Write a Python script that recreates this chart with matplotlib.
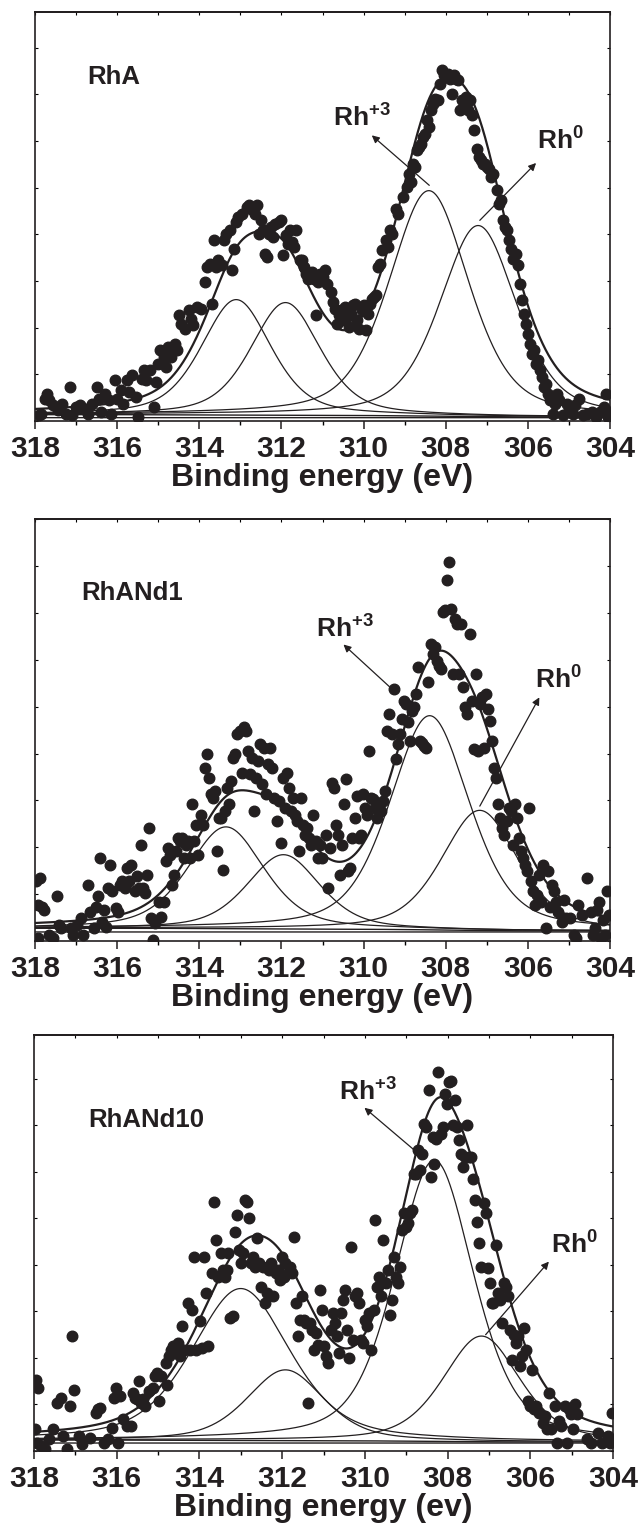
import numpy as np
import matplotlib
matplotlib.use("Agg")
import matplotlib.pyplot as plt
from matplotlib.ticker import MultipleLocator

plt.rcParams["font.family"] = "Liberation Sans"
plt.rcParams["font.weight"] = "bold"
plt.rcParams["mathtext.fontset"] = "custom"
plt.rcParams["mathtext.rm"] = "Liberation Sans:bold"
plt.rcParams["mathtext.it"] = "Liberation Sans:bold"
plt.rcParams["mathtext.bf"] = "Liberation Sans:bold"

INK = "#231f20"

# ---------------- RhA ----------------
rha_be = [317.90, 317.85, 317.75, 317.70, 317.65, 317.55, 317.45, 317.35, 317.25, 317.15,
          317.10, 317.00, 316.90, 316.75, 316.70, 316.60, 316.50, 316.45, 316.40, 316.30,
          316.20, 316.15, 316.05, 316.00, 315.90, 315.85, 315.75, 315.70, 315.65, 315.55,
          315.50, 315.40, 315.35, 315.30, 315.20, 315.10, 315.05, 315.00, 314.95, 314.85,
          314.80, 314.75, 314.70, 314.60, 314.55, 314.50, 314.45, 314.35, 314.25, 314.20,
          314.15, 314.05, 313.95, 313.85, 313.80, 313.75, 313.70, 313.65, 313.60, 313.55,
          313.45, 313.40, 313.35, 313.25, 313.20, 313.15, 313.10, 313.05, 312.95, 312.85,
          312.80, 312.75, 312.65, 312.60, 312.55, 312.50, 312.45, 312.40, 312.35, 312.30,
          312.25, 312.20, 312.15, 312.05, 312.00, 311.95, 311.90, 311.85, 311.80, 311.75,
          311.70, 311.65, 311.55, 311.50, 311.45, 311.40, 311.35, 311.30, 311.25, 311.20,
          311.15, 311.10, 311.05, 311.00, 310.95, 310.90, 310.80, 310.75, 310.70, 310.65,
          310.60, 310.55, 310.50, 310.45, 310.40, 310.35, 310.30, 310.25, 310.20, 310.15,
          310.10, 310.05, 310.00, 309.95, 309.90, 309.85, 309.80, 309.75, 309.70, 309.65,
          309.60, 309.55, 309.45, 309.40, 309.35, 309.30, 309.20, 309.15, 309.05, 308.95,
          308.90, 308.85, 308.80, 308.75, 308.70, 308.65, 308.60, 308.55, 308.50, 308.45,
          308.40, 308.35, 308.30, 308.25, 308.20, 308.15, 308.10, 308.05, 308.00, 307.95,
          307.90, 307.85, 307.80, 307.75, 307.70, 307.65, 307.60, 307.55, 307.50, 307.45,
          307.40, 307.35, 307.30, 307.25, 307.20, 307.15, 307.10, 307.05, 307.00, 306.95,
          306.90, 306.85, 306.75, 306.70, 306.65, 306.60, 306.55, 306.50, 306.45, 306.40,
          306.35, 306.30, 306.25, 306.20, 306.15, 306.10, 306.05, 306.00, 305.95, 305.90,
          305.85, 305.80, 305.75, 305.70, 305.65, 305.60, 305.55, 305.50, 305.45, 305.40,
          305.35, 305.30, 305.25, 305.15, 305.05, 305.00, 304.90, 304.85, 304.75, 304.65,
          304.55, 304.45, 304.35, 304.25, 304.15, 304.10, 304.05, 304.00]
rha_int = [17, 22, 67, 82, 62, 47, 32, 52, 22, 102,
           17, 42, 47, 37, 22, 52, 102, 67, 27, 82,
           62, 22, 122, 67, 92, 52, 122, 87, 137, 72,
           12, 127, 152, 122, 152, 42, 117, 172, 212, 192,
           162, 222, 192, 232, 212, 317, 292, 277, 332, 307,
           287, 342, 337, 417, 462, 472, 352, 542, 462, 482,
           467, 542, 562, 572, 452, 517, 597, 612, 622, 642,
           647, 637, 622, 647, 562, 602, 572, 502, 492, 562,
           582, 552, 592, 597, 602, 497, 557, 532, 572, 537,
           522, 572, 482, 482, 462, 442, 427, 442, 447, 427,
           317, 417, 442, 432, 452, 412, 387, 357, 337, 292,
           317, 332, 302, 342, 312, 282, 322, 347, 352, 302,
           277, 332, 347, 272, 322, 352, 367, 372, 377, 462,
           472, 512, 542, 522, 572, 562, 637, 622, 672, 702,
           742, 717, 772, 762, 812, 822, 832, 852, 862, 902,
           882, 932, 952, 967, 962, 1012, 1052, 1037, 1032, 1042,
           1027, 982, 1037, 1027, 1022, 932, 962, 942, 972, 932,
           962, 917, 872, 817, 792, 782, 772, 772, 762, 757,
           732, 742, 692, 652, 662, 602, 582, 572, 542, 517,
           487, 502, 467, 412, 362, 322, 292, 262, 232, 202,
           212, 172, 182, 152, 132, 102, 112, 82, 62, 22,
           52, 82, 62, 17, 52, 32, 22, 47, 67, 17,
           22, 27, 12, 27, 42, 82, 12, 27]
rha_centers = [313.10, 311.90, 308.41, 307.21]
rha_heights = [346, 338, 676, 573]
rha_fwhm = [2.0, 2.0, 2.3, 2.2]

# ---------------- RhANd1 ----------------
rhand1_be = [317.97, 317.92, 317.87, 317.82, 317.77, 317.92, 317.67, 317.57, 317.47, 317.42,
             317.37, 317.12, 317.07, 316.97, 316.87, 316.82, 316.72, 316.67, 316.57, 316.52,
             316.47, 316.42, 316.37, 316.32, 316.27, 316.22, 316.17, 316.12, 316.02, 315.97,
             315.92, 315.87, 315.82, 315.77, 315.72, 315.67, 315.57, 315.52, 315.47, 315.42,
             315.37, 315.32, 315.27, 315.22, 315.17, 315.12, 315.07, 314.97, 314.92, 314.87,
             314.82, 314.77, 314.72, 314.67, 314.62, 314.57, 314.52, 314.47, 314.42, 314.37,
             314.32, 314.27, 314.22, 314.17, 314.12, 314.07, 314.02, 313.97, 313.92, 313.87,
             313.82, 313.77, 313.72, 313.67, 313.62, 313.57, 313.52, 313.47, 313.42, 313.37,
             313.32, 313.27, 313.22, 313.17, 313.12, 313.07, 313.02, 312.97, 312.92, 312.87,
             312.82, 312.77, 312.72, 312.67, 312.62, 312.57, 312.52, 312.47, 312.42, 312.37,
             312.32, 312.27, 312.22, 312.17, 312.12, 312.07, 312.02, 311.97, 311.92, 311.87,
             311.82, 311.77, 311.72, 311.67, 311.62, 311.57, 311.52, 311.47, 311.42, 311.37,
             311.32, 311.27, 311.22, 311.17, 311.12, 311.07, 311.02, 310.92, 310.87, 310.82,
             310.77, 310.72, 310.67, 310.62, 310.57, 310.52, 310.47, 310.42, 310.37, 310.32,
             310.27, 310.22, 310.17, 310.12, 310.07, 310.02, 309.97, 309.92, 309.87, 309.82,
             309.77, 309.72, 309.67, 309.62, 309.57, 309.52, 309.47, 309.42, 309.37, 309.32,
             309.27, 309.22, 309.17, 309.12, 309.07, 309.02, 308.97, 308.92, 308.87, 308.82,
             308.77, 308.72, 308.67, 308.62, 308.57, 308.52, 308.47, 308.42, 308.37, 308.32,
             308.27, 308.22, 308.17, 308.12, 308.07, 308.02, 307.97, 307.92, 307.87, 307.82,
             307.77, 307.72, 307.67, 307.62, 307.57, 307.52, 307.47, 307.42, 307.37, 307.32,
             307.27, 307.22, 307.17, 307.12, 307.07, 307.02, 306.97, 306.92, 306.87, 306.82,
             306.77, 306.72, 306.67, 306.62, 306.57, 306.52, 306.47, 306.42, 306.37, 306.32,
             306.27, 306.22, 306.17, 306.12, 306.07, 306.02, 305.97, 305.92, 305.87, 305.82,
             305.77, 305.72, 305.67, 305.62, 305.57, 305.52, 305.47, 305.42, 305.37, 305.32,
             305.27, 305.17, 305.12, 305.07, 304.97, 304.87, 304.82, 304.77, 304.67, 304.57,
             304.47, 304.42, 304.37, 304.32, 304.27, 304.22, 304.17, 304.12, 304.07, 304.02]
rhand1_int = [178, 108, 188, 103, 93, 8, 18, 8, 133, 48,
              38, 38, 18, 48, 68, 18, 168, 88, 38, 103,
              133, 248, 58, 93, 43, 158, 228, 148, 98, 88,
              168, 178, 158, 218, 178, 228, 148, 193, 158, 288,
              158, 143, 198, 338, 68, 3, 53, 118, 73, 118,
              238, 278, 258, 168, 198, 268, 308, 298, 308, 248,
              288, 298, 248, 408, 298, 348, 258, 378, 348, 518,
              558, 488, 438, 428, 448, 268, 368, 368, 213, 388,
              458, 408, 478, 548, 558, 618, 628, 503, 638, 628,
              568, 498, 548, 388, 488, 538, 588, 468, 578, 438,
              528, 578, 518, 428, 358, 418, 293, 488, 398, 503,
              458, 388, 428, 378, 358, 268, 428, 348, 318, 338,
              308, 288, 378, 298, 248, 288, 248, 318, 158, 278,
              473, 458, 348, 318, 198, 288, 408, 483, 208, 218,
              308, 368, 433, 308, 318, 438, 398, 378, 568, 428,
              423, 398, 368, 408, 388, 418, 448, 628, 678, 618,
              753, 543, 588, 618, 663, 718, 708, 653, 598, 688,
              698, 738, 818, 598, 593, 583, 578, 773, 888, 858,
              878, 838, 823, 813, 983, 988, 1078, 1133, 993, 798,
              963, 948, 798, 948, 758, 698, 678, 918, 718, 573,
              798, 568, 708, 728, 578, 738, 693, 658, 598, 518,
              488, 408, 368, 338, 318, 358, 398, 388, 288, 408,
              368, 308, 268, 248, 228, 208, 398, 178, 148, 108,
              138, 198, 118, 228, 38, 208, 103, 168, 148, 118,
              88, 58, 123, 68, 68, 18, 8, 108, 78, 188,
              88, 18, 38, 93, 118, 8, 63, 18, 148, 78]
rhand1_centers = [313.35, 311.95, 308.39, 307.17]
rhand1_heights = [304, 222, 640, 359]
rhand1_fwhm = [2.2, 2.1, 2.3, 2.2]

# ---------------- RhANd10 ----------------
rhand10_be = [317.95, 317.90, 317.98, 317.93, 317.83, 317.73, 317.64, 317.54, 317.44, 317.34,
              317.29, 317.19, 317.14, 317.09, 317.04, 316.90, 316.85, 316.65, 316.50, 316.45,
              316.40, 316.30, 316.21, 316.11, 316.06, 316.01, 315.96, 315.91, 315.86, 315.76,
              315.66, 315.61, 315.56, 315.51, 315.47, 315.42, 315.37, 315.32, 315.22, 315.12,
              315.07, 315.02, 314.97, 314.92, 314.82, 314.78, 314.73, 314.68, 314.63, 314.58,
              314.53, 314.48, 314.43, 314.38, 314.28, 314.23, 314.18, 314.13, 314.09, 313.99,
              313.94, 313.89, 313.84, 313.79, 313.69, 313.64, 313.59, 313.54, 313.49, 313.44,
              313.39, 313.34, 313.30, 313.25, 313.20, 313.15, 313.10, 313.05, 313.00, 312.95,
              312.90, 312.85, 312.80, 312.75, 312.70, 312.66, 312.61, 312.56, 312.51, 312.46,
              312.41, 312.36, 312.31, 312.26, 312.21, 312.16, 312.11, 312.06, 312.01, 311.96,
              311.92, 311.87, 311.82, 311.77, 311.72, 311.67, 311.62, 311.57, 311.52, 311.47,
              311.42, 311.37, 311.32, 311.27, 311.22, 311.18, 311.13, 311.08, 311.03, 310.98,
              310.93, 310.88, 310.83, 310.78, 310.73, 310.68, 310.63, 310.58, 310.53, 310.48,
              310.44, 310.39, 310.34, 310.29, 310.24, 310.19, 310.14, 310.09, 310.04, 309.99,
              309.94, 309.89, 309.84, 309.79, 309.75, 309.70, 309.65, 309.60, 309.55, 309.50,
              309.45, 309.40, 309.35, 309.30, 309.25, 309.20, 309.15, 309.10, 309.06, 309.01,
              308.96, 308.91, 308.86, 308.81, 308.76, 308.71, 308.66, 308.61, 308.56, 308.51,
              308.46, 308.41, 308.36, 308.32, 308.27, 308.22, 308.17, 308.12, 308.07, 308.02,
              307.97, 307.92, 307.87, 307.82, 307.77, 307.72, 307.67, 307.62, 307.58, 307.53,
              307.48, 307.43, 307.38, 307.33, 307.28, 307.23, 307.18, 307.13, 307.08, 307.03,
              306.98, 306.93, 306.89, 306.84, 306.79, 306.74, 306.69, 306.64, 306.59, 306.54,
              306.49, 306.44, 306.39, 306.34, 306.29, 306.24, 306.20, 306.15, 306.10, 306.05,
              306.00, 305.95, 305.90, 305.85, 305.80, 305.70, 305.65, 305.60, 305.55, 305.50,
              305.41, 305.36, 305.31, 305.26, 305.16, 305.11, 305.06, 305.01, 304.96, 304.91,
              304.86, 304.62, 304.52, 304.37, 304.27, 304.12, 304.07, 304.02]
rhand10_int = [215, 190, 65, 25, 15, 5, 35, 65, 145, 160,
               45, 5, 135, 345, 185, 45, 20, 40, 115, 125,
               130, 25, 35, 70, 160, 190, 25, 165, 95, 75,
               75, 175, 160, 155, 210, 145, 155, 135, 180, 190,
               225, 235, 150, 225, 265, 200, 285, 305, 315, 295,
               325, 285, 375, 305, 445, 305, 425, 585, 305, 390,
               310, 585, 475, 315, 535, 750, 635, 525, 595, 545,
               525, 545, 595, 400, 405, 660, 710, 605, 565, 595,
               755, 750, 700, 565, 585, 555, 640, 565, 495, 555,
               445, 475, 545, 565, 465, 535, 545, 515, 585, 525,
               565, 535, 555, 535, 645, 445, 345, 395, 465, 395,
               385, 145, 385, 365, 305, 355, 320, 485, 425, 315,
               285, 265, 365, 415, 385, 345, 295, 415, 455, 485,
               365, 280, 615, 335, 465, 475, 445, 335, 325, 395,
               375, 415, 305, 425, 695, 495, 525, 465, 635, 505,
               545, 410, 455, 585, 525, 505, 555, 665, 715, 675,
               685, 715, 725, 835, 835, 905, 845, 895, 985, 975,
               1085, 825, 945, 865, 940, 1140, 955, 975, 1075, 1045,
               1110, 1115, 980, 1055, 975, 935, 895, 855, 885, 980,
               885, 885, 820, 755, 690, 625, 555, 745, 715, 550,
               505, 445, 445, 620, 475, 455, 385, 505, 495, 465,
               365, 275, 350, 325, 345, 255, 285, 370, 305, 150,
               135, 245, 125, 135, 115, 85, 105, 65, 175, 65,
               135, 25, 90, 75, 135, 25, 125, 110, 65, 140,
               110, 35, 25, 55, 25, 45, 25, 115]
rhand10_centers = [313.00, 311.92, 308.32, 307.18]
rhand10_heights = [457, 213, 846, 318]
rhand10_fwhm = [2.8, 2.2, 2.25, 2.2]

panel_names = ["RhA", "RhANd1", "RhANd10"]
xlabels = ["Binding energy (eV)", "Binding energy (eV)", "Binding energy (ev)"]


def peak(e, c, h, w, eta=0.45):
    # pseudo-Voigt component
    x = (e - c) / (w / 2)
    return h * ((1 - eta) * np.exp(-np.log(2) * x ** 2) + eta / (1 + x ** 2))


def draw_panel(ax, be, inten, centers, heights, fwhm, bg_lo, bg_hi, flat, ymax,
               name, name_xy, rh3_text, rh3_arrow, rh0_text, rh0_arrow, xlabel):
    e = np.linspace(304, 318, 1401)
    comps = [peak(e, c, h, w) for c, h, w in zip(centers, heights, fwhm)]
    total = np.sum(comps, axis=0)
    frac = np.cumsum(total)
    frac = frac / frac[-1]
    bg = bg_lo + (bg_hi - bg_lo) * frac

    ax.plot(be, inten, "o", ms=7.6, color=INK, mec=INK, zorder=2)
    ax.plot(e, np.full_like(e, flat), color=INK, lw=1.0, zorder=3)
    ax.plot(e, bg, color=INK, lw=1.0, zorder=3)
    for comp in comps:
        ax.plot(e, comp + bg, color=INK, lw=0.9, zorder=3)
    ax.plot(e, total + bg, color=INK, lw=1.6, zorder=4)

    ax.text(name_xy[0], name_xy[1], name, fontsize=18.5, fontweight="bold", color=INK)
    ax.text(rh3_text[0], rh3_text[1], r"Rh$^{+3}$", fontsize=19, fontweight="bold", color=INK)
    ax.text(rh0_text[0], rh0_text[1], r"Rh$^{0}$", fontsize=19, fontweight="bold", color=INK)
    arrow = dict(arrowstyle="-|>", color=INK, lw=0.9, mutation_scale=11, shrinkA=0, shrinkB=0)
    ax.annotate("", xy=rh3_arrow[1], xytext=rh3_arrow[0], arrowprops=arrow)
    ax.annotate("", xy=rh0_arrow[1], xytext=rh0_arrow[0], arrowprops=arrow)

    ax.set_xlim(318, 304)
    ax.set_ylim(0, ymax)
    ax.xaxis.set_major_locator(MultipleLocator(2))
    ax.xaxis.set_minor_locator(MultipleLocator(1))
    ax.tick_params(axis="x", which="major", direction="out", length=6, width=1.1,
                   labelsize=21.5, pad=4, colors=INK)
    ax.tick_params(axis="x", which="minor", direction="out", length=3, width=1.0)
    ax.tick_params(axis="y", which="both", direction="in", length=2, width=0.8,
                   left=True, right=True, labelleft=False)
    ax.yaxis.set_major_locator(MultipleLocator(140))
    top = ax.secondary_xaxis("top")
    top.xaxis.set_major_locator(MultipleLocator(1))
    top.tick_params(direction="in", length=2, width=0.8, labeltop=False)
    top.spines["top"].set_linewidth(1.2)
    for s in ax.spines.values():
        s.set_linewidth(1.2)
        s.set_color(INK)
    ax.set_xlabel(xlabel, fontsize=23, fontweight="bold", color=INK, labelpad=0)


fig = plt.figure(figsize=(6.41, 15.25), dpi=100)
W, H = 641, 1525
ax1 = fig.add_axes([35 / W, (H - 421) / H, 575 / W, 409 / H])
ax2 = fig.add_axes([35 / W, (H - 941) / H, 575 / W, 422 / H])
ax3 = fig.add_axes([34 / W, (H - 1451) / H, 579 / W, 416 / H])

draw_panel(ax1, rha_be, rha_int, rha_centers, rha_heights, rha_fwhm,
           12, 19, 10, 1227, panel_names[0], (316.72, 1010),
           (310.74, 884), ((308.40, 707), (309.80, 857)),
           (305.78, 815), ((307.17, 602), (305.80, 774)), xlabels[0])
draw_panel(ax2, rhand1_be, rhand1_int, rhand1_centers, rhand1_heights, rhand1_fwhm,
           30, 38, 27, 1261, panel_names[1], (316.87, 1018),
           (311.17, 908), ((309.22, 743), (310.49, 886)),
           (305.82, 753), ((307.17, 403), (305.72, 728)), xlabels[1])
draw_panel(ax3, rhand10_be, rhand10_int, rhand10_centers, rhand10_heights, rhand10_fwhm,
           27, 33, 24, 1252, panel_names[2], (316.70, 975),
           (310.63, 1055), ((308.61, 885), (310.01, 1033)),
           (305.50, 595), ((307.08, 350), (305.55, 570)), xlabels[2])

fig.savefig("out.png", dpi=100)
